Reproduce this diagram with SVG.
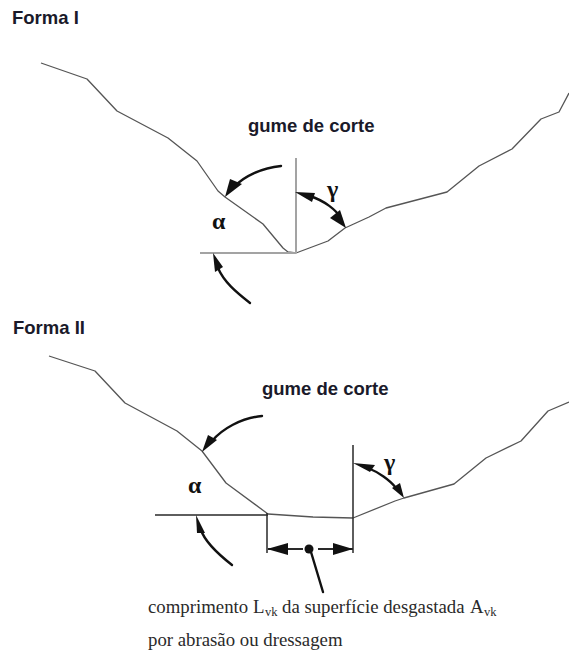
<svg xmlns="http://www.w3.org/2000/svg" width="569" height="650" viewBox="0 0 569 650">
<style>
.bg{fill:#fff}
.p{fill:none;stroke:#555;stroke-width:1.3;stroke-linejoin:round}
.g{fill:none;stroke:#a3a3a3;stroke-width:2}
.k{fill:none;stroke:#2a2a2a;stroke-width:1.5}
.a{fill:none;stroke:#111;stroke-width:2.4;stroke-linecap:round}
.h{fill:#111}
.t{font-family:"Liberation Sans",Arial,sans-serif;font-weight:700;font-size:18.5px;fill:#1a1a2a}
.gr{font-family:"Liberation Serif","DejaVu Serif",serif;font-weight:700;font-size:24px;fill:#111}
.s{font-family:"Liberation Serif","Times New Roman",serif;font-size:18.8px;fill:#2a2a2a}
.sub{font-size:12.5px}
</style>
<rect class="bg" width="569" height="650"/>
<g id="forma-1">
<text class="t" x="12" y="24">Forma I</text>
<text class="t" x="248" y="132">gume de corte</text>
<text class="gr" x="212" y="229">α</text>
<text class="gr" x="327" y="197">γ</text>
</g>
<g id="forma-2">
<text class="t" x="13" y="334">Forma II</text>
<text class="t" x="262" y="395">gume de corte</text>
<text class="gr" x="188" y="493">α</text>
<text class="gr" x="384" y="470">γ</text>
<text class="s" x="148" y="613">comprimento <tspan x="253">L</tspan><tspan class="sub" x="265" y="616">vk</tspan><tspan x="282" y="613">da superfície desgastada</tspan><tspan x="470">A</tspan><tspan class="sub" x="484" y="616">vk</tspan></text>
<text class="s" x="148" y="646">por abrasão ou dressagem</text>
</g>
<g id="connectors">
<path class="p" d="M41 63L87 79L117 111L168 138L197 161L218 191L225 197L263 224L283 248L288 252L296 253L328 241L345 228L369 217L386 208L447 192L479 166L512 149L541 119L559 112L569 93"/>
<path class="g" d="M200 253H296M296 158V253"/>
<path class="a" d="M281 166C262 168 244 176 234 187"/>
<path class="h" d="M225 197L230 179L242 184Z"/>
<path class="a" d="M250 303C236 292 224 282 218 268"/>
<path class="h" d="M213 253L223 267L215 272Z"/>
<path class="a" d="M310 196C325 201 336 210 341 218"/>
<path class="h" d="M295 192L315 193L312 202Z"/>
<path class="h" d="M346 228L330 218L340 210Z"/>
<path class="p" d="M49 356L95 371L125 403L177 431L202 451L226 483L268 514L313 517L353 518L395 501L404 498L454 484L486 458L521 441L548 411L569 402"/>
<path class="k" d="M155 515H268M267 513V553M353 445V553"/>
<path class="a" d="M262 416C241 418 222 429 212 441"/>
<path class="h" d="M202 452L208 435L217 440Z"/>
<path class="a" d="M232 565C218 554 205 542 201 530"/>
<path class="h" d="M196 515L205 533L197 533Z"/>
<path class="a" d="M368 468C378 472 390 480 396 488"/>
<path class="h" d="M353 463L375 465L370 472Z"/>
<path class="h" d="M404 498L392 488L400 483Z"/>
<path class="k" style="stroke-width:2" d="M268 549H303M318 549H353"/>
<path class="h" d="M267 549L288 543V555ZM353 549L333 543V555Z"/>
<circle class="h" cx="309" cy="549" r="4.5"/>
<path class="a" d="M311 552L323 592"/>
</g>
</svg>
